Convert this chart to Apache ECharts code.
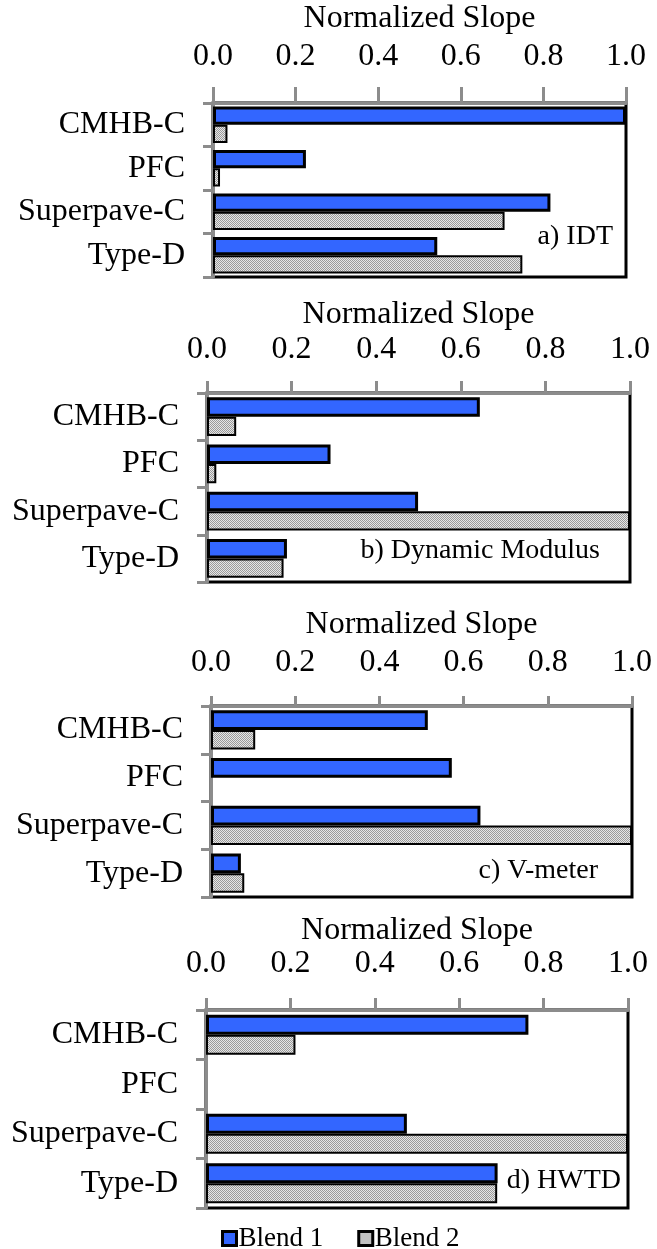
<!DOCTYPE html>
<html>
<head>
<meta charset="utf-8">
<style>
  html, body { margin: 0; padding: 0; background: #fff; }
  #chart { width: 657px; height: 1249px; }
</style>
<script src="https://cdn.jsdelivr.net/npm/echarts@6/dist/echarts.min.js"></script>
</head>
<body>
<div id="chart"></div>
<script>
// Mixtures on the category axis (top to bottom)
const categories = ['CMHB-C', 'PFC', 'Superpave-C', 'Type-D'];
const seriesNames = ['Blend 1', 'Blend 2'];
const axisTicks = [0.0, 0.2, 0.4, 0.6, 0.8, 1.0];

// Normalized slope per test method
const idtBlend1 = [1.0, 0.225, 0.817, 0.543];
const idtBlend2 = [0.035, 0.017, 0.706, 0.749];
const dynModBlend1 = [0.645, 0.292, 0.499, 0.189];
const dynModBlend2 = [0.069, 0.022, 1.0, 0.181];
const vmeterBlend1 = [0.515, 0.572, 0.640, 0.071];
const vmeterBlend2 = [0.105, null, 1.0, 0.079];
const hwtdBlend1 = [0.764, null, 0.476, 0.691];
const hwtdBlend2 = [0.212, null, 1.0, 0.690];

const panelTitles = ['a) IDT', 'b) Dynamic Modulus', 'c) V-meter', 'd) HWTD'];
const panelData = [
  [idtBlend1, idtBlend2],
  [dynModBlend1, dynModBlend2],
  [vmeterBlend1, vmeterBlend2],
  [hwtdBlend1, hwtdBlend2]
];

// Layout of the four stacked panels
const layout = [
  { left: 213, top: 103, width: 413, height: 174, tickLen: 16, labelGap: 30, nameGap: 68, gap: '16%', textTop: 223, textRight: 44 },
  { left: 207, top: 393, width: 423, height: 189, tickLen: 12, labelGap: 27, nameGap: 62, gap: '18%', textTop: 537, textRight: 57 },
  { left: 211, top: 706, width: 421, height: 191, tickLen: 10, labelGap: 27, nameGap: 65, gap: '18%', textTop: 857, textRight: 59 },
  { left: 206, top: 1010, width: 422, height: 198, tickLen: 12, labelGap: 30, nameGap: 63, gap: '19%', textTop: 1167, textRight: 36 }
];

const FONT = '"Liberation Serif", "Times New Roman", serif';
const AXIS_GRAY = '#8c8c8c';
const BLUE = '#3366ff';

// fine dotted fill for the second blend
function makeDotPattern() {
  const c = document.createElement('canvas');
  c.width = 2; c.height = 2;
  const g = c.getContext('2d');
  g.fillStyle = '#e6e6e6'; g.fillRect(0, 0, 2, 2);
  g.fillStyle = '#9a9a9a'; g.fillRect(0, 0, 1, 1); g.fillRect(1, 1, 1, 1);
  return c;
}
const dotPattern = { image: makeDotPattern(), repeat: 'repeat' };

const grids = [], xAxes = [], yAxes = [], series = [], graphics = [];

layout.forEach((L, i) => {
  grids.push({
    left: L.left, top: L.top, width: L.width, height: L.height,
    show: true, borderColor: '#000', borderWidth: 3, backgroundColor: '#fff'
  });
  xAxes.push({
    gridIndex: i, type: 'value', position: 'top',
    min: axisTicks[0], max: axisTicks[axisTicks.length - 1], interval: 0.2,
    name: 'Normalized Slope', nameLocation: 'middle', nameGap: L.nameGap,
    nameTextStyle: { fontFamily: FONT, fontSize: 32, color: '#000' },
    axisLine: { show: true, lineStyle: { color: AXIS_GRAY, width: 3 } },
    axisTick: { show: true, inside: false, length: L.tickLen, lineStyle: { color: AXIS_GRAY, width: 3 } },
    axisLabel: { margin: L.labelGap, fontFamily: FONT, fontSize: 32, color: '#000',
      formatter: v => v.toFixed(1) },
    splitLine: { show: false }
  });
  yAxes.push({
    gridIndex: i, type: 'category', data: categories, inverse: true,
    axisLine: { show: true, lineStyle: { color: AXIS_GRAY, width: 3 } },
    axisTick: { show: true, length: 10, lineStyle: { color: AXIS_GRAY, width: 3 } },
    axisLabel: { margin: 28, fontFamily: FONT, fontSize: 32, color: '#000' }
  });
  series.push({
    name: seriesNames[0], type: 'bar', xAxisIndex: i, yAxisIndex: i,
    data: panelData[i][0], barGap: '0%', barCategoryGap: L.gap,
    itemStyle: { color: BLUE, borderColor: '#000', borderWidth: 3 },
    z: 3, animation: false
  });
  series.push({
    name: seriesNames[1], type: 'bar', xAxisIndex: i, yAxisIndex: i,
    data: panelData[i][1], barGap: '0%', barCategoryGap: L.gap,
    itemStyle: { color: dotPattern, borderColor: '#000', borderWidth: 2 },
    z: 2, animation: false
  });
  graphics.push({
    type: 'text', right: L.textRight, top: L.textTop, z: 10,
    style: { text: panelTitles[i], font: '28px ' + FONT, fill: '#000' }
  });
});

const chart = echarts.init(document.getElementById('chart'), null, { renderer: 'canvas' });
chart.setOption({
  animation: false,
  backgroundColor: '#fff',
  grid: grids,
  xAxis: xAxes,
  yAxis: yAxes,
  series: series,
  graphic: graphics,
  legend: {
    data: [
      { name: seriesNames[0], itemStyle: { color: BLUE, borderColor: '#000', borderWidth: 3 } },
      { name: seriesNames[1], itemStyle: { color: dotPattern, borderColor: '#000', borderWidth: 3 } }
    ],
    left: 216, top: 1220,
    icon: 'rect', itemWidth: 14, itemHeight: 14, itemGap: 34,
    textStyle: { fontFamily: FONT, fontSize: 27, color: '#000', padding: [0, 0, 0, -3] }
  }
});
</script>
</body>
</html>
